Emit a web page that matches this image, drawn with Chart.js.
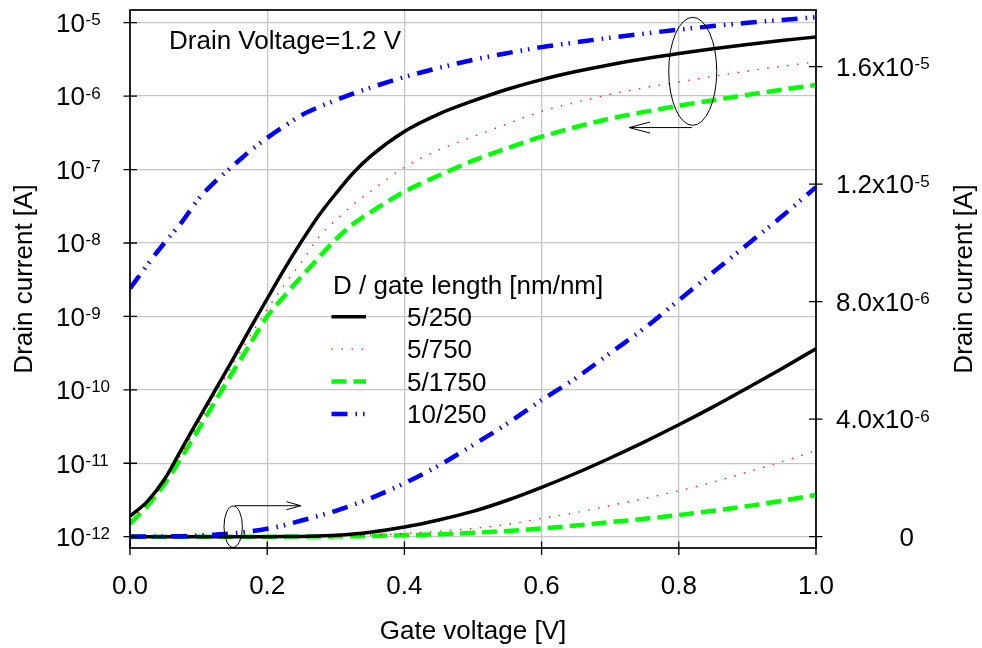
<!DOCTYPE html>
<html>
<head>
<meta charset="utf-8">
<script src="https://cdn.jsdelivr.net/npm/chart.js@4"></script>
<style>
  html, body { margin: 0; padding: 0; background: #fff; }
  canvas { display: block; }
</style>
</head>
<body>
<canvas id="ivChart" width="982" height="648"></canvas>
<script>
// gate voltage [V]
const gateVoltage = [0, 0.025, 0.05, 0.075, 0.1, 0.125, 0.15, 0.175, 0.2, 0.225, 0.25, 0.275, 0.3, 0.325, 0.35,
  0.4, 0.45, 0.5, 0.55, 0.6, 0.65, 0.7, 0.75, 0.8, 0.85, 0.9, 0.95, 1.0];

// drain current [A] for each D / gate length
const current5_250 = [1.9e-12, 3.0e-12, 6.0e-12, 1.55e-11, 4.0e-11, 1.02e-10, 2.6e-10, 6.8e-10, 1.74e-9, 4.4e-9, 1.05e-8, 2.35e-8,
  4.7e-8, 8.9e-8, 1.5e-7, 3.3e-7, 5.7e-7, 8.6e-7, 1.24e-6, 1.68e-6, 2.16e-6, 2.68e-6, 3.23e-6, 3.81e-6, 4.42e-6, 5.06e-6, 5.72e-6, 6.4e-6];
const current5_750 = [1.7e-12, 2.8e-12, 5.6e-12, 1.35e-11, 3.4e-11, 9.0e-11, 2.2e-10, 5.4e-10, 1.25e-9, 2.7e-9, 5.5e-9, 1.2e-8,
  2.05e-8, 3.3e-8, 5.0e-8, 1.07e-7, 1.85e-7, 2.8e-7, 4.2e-7, 6.2e-7, 8.2e-7, 1.06e-6, 1.3e-6, 1.56e-6, 1.86e-6, 2.2e-6, 2.55e-6, 2.93e-6];
const current5_1750 = [1.5e-12, 2.6e-12, 5.2e-12, 1.2e-11, 2.9e-11, 7.2e-11, 1.75e-10, 4.2e-10, 1.0e-9, 1.9e-9, 3.5e-9, 6.3e-9,
  1.12e-8, 1.8e-8, 2.6e-8, 5.0e-8, 8.3e-8, 1.32e-7, 1.95e-7, 2.8e-7, 3.8e-7, 4.95e-7, 6.1e-7, 7.4e-7, 8.8e-7, 1.04e-6, 1.22e-6, 1.42e-6];
const current10_250 = [2.4e-9, 5.0e-9, 1.0e-8, 1.9e-8, 4.0e-8, 7.0e-8, 1.12e-7, 1.8e-7, 2.7e-7, 3.9e-7, 5.5e-7, 7.1e-7,
  8.8e-7, 1.08e-6, 1.3e-6, 1.82e-6, 2.42e-6, 3.12e-6, 3.85e-6, 4.65e-6, 5.4e-6, 6.25e-6, 7.1e-6, 8.05e-6, 9.0e-6, 9.95e-6, 10.9e-6, 11.9e-6];

const seriesLabels = ['5/250', '5/750', '5/1750', '10/250'];
const seriesData = [current5_250, current5_750, current5_1750, current10_250];

// axis ticks
const xTicks = [0, 0.2, 0.4, 0.6, 0.8, 1.0];
const xTickLabels = ['0.0', '0.2', '0.4', '0.6', '0.8', '1.0'];
const logTicks = [1e-12, 1e-11, 1e-10, 1e-9, 1e-8, 1e-7, 1e-6, 1e-5];
const logTickExponents = ['-12', '-11', '-10', '-9', '-8', '-7', '-6', '-5'];
const linTicks = [0, 4e-6, 8e-6, 1.2e-5, 1.6e-5];
const linTickBases = ['0', '4.0x10', '8.0x10', '1.2x10', '1.6x10'];
const linTickExponents = ['', '-6', '-6', '-5', '-5'];

const FONT = '"Liberation Sans", Arial, sans-serif';

const styles = [
  { color: '#000000', width: 3.5, dash: [] },
  { color: '#ff2020', width: 1.4, dash: [1.5, 8.5] },
  { color: '#00ff00', width: 4.5, dash: [15, 7] },
  { color: '#0000ff', width: 4.5, dash: [16, 8, 1.5, 6, 1.5, 8] }
];

function makeSet(i, axis) {
  return {
    label: seriesLabels[i],
    data: gateVoltage.map((v, k) => ({ x: v, y: seriesData[i][k] })),
    yAxisID: axis,
    borderColor: styles[i].color,
    borderWidth: styles[i].width,
    borderDash: styles[i].dash,
    borderCapStyle: 'butt',
    pointRadius: 0,
    fill: false,
    cubicInterpolationMode: 'monotone'
  };
}

const order = [3, 0, 1, 2];
const datasets = [];
order.forEach(i => datasets.push(makeSet(i, 'y')));
order.forEach(i => datasets.push(makeSet(i, 'y2')));

function supText(ctx, base, sup, rightX, cy) {
  ctx.fillStyle = '#000';
  ctx.font = '26px ' + FONT;
  ctx.textAlign = 'right';
  ctx.textBaseline = 'alphabetic';
  ctx.fillText(base, rightX, cy + 9.3);
  if (sup) {
    ctx.font = '17px ' + FONT;
    ctx.textAlign = 'left';
    ctx.fillText(sup, rightX + 0.5, cy + 2.5);
  }
}

function arrow(ctx, x1, y1, x2, y2, len, half) {
  ctx.beginPath();
  ctx.moveTo(x1, y1);
  ctx.lineTo(x2, y2);
  const dir = Math.sign(x2 - x1);
  ctx.moveTo(x2 - dir * len, y2 - half);
  ctx.lineTo(x2, y2);
  ctx.lineTo(x2 - dir * len, y2 + half);
  ctx.stroke();
}

const decorations = {
  id: 'decorations',
  afterDraw(chart) {
    const { ctx, chartArea: a, scales } = chart;
    const x = scales.x, y = scales.y, y2 = scales.y2;
    ctx.save();

    // frame
    ctx.strokeStyle = '#000';
    ctx.setLineDash([]);
    ctx.lineWidth = 1.7;
    ctx.strokeRect(a.left, a.top, a.right - a.left, a.bottom - a.top);

    // tick marks crossing the axes
    ctx.lineWidth = 1.3;
    ctx.beginPath();
    xTicks.forEach(v => {
      const px = x.getPixelForValue(v);
      ctx.moveTo(px, a.bottom - 6.5); ctx.lineTo(px, a.bottom + 7);
    });
    logTicks.forEach(v => {
      const py = y.getPixelForValue(v);
      ctx.moveTo(a.left - 6.5, py); ctx.lineTo(a.left + 7, py);
    });
    linTicks.forEach(v => {
      const py = y2.getPixelForValue(v);
      ctx.moveTo(a.right - 7, py); ctx.lineTo(a.right + 6.5, py);
    });
    ctx.stroke();

    // tick labels
    ctx.fillStyle = '#000';
    ctx.font = '26px ' + FONT;
    ctx.textAlign = 'center';
    ctx.textBaseline = 'alphabetic';
    xTicks.forEach((v, i) => ctx.fillText(xTickLabels[i], x.getPixelForValue(v), 593.5));
    logTicks.forEach((v, i) => supText(ctx, '10', logTickExponents[i], 85, y.getPixelForValue(v)));
    linTicks.forEach((v, i) => supText(ctx, linTickBases[i], linTickExponents[i], 914, y2.getPixelForValue(v)));

    // axis titles
    ctx.font = '26px ' + FONT;
    ctx.textAlign = 'center';
    ctx.textBaseline = 'alphabetic';
    ctx.fillText('Gate voltage [V]', (a.left + a.right) / 2, 638.5);
    const midY = (a.top + a.bottom) / 2;
    [[32, 'Drain current [A]'], [972, 'Drain current [A]']].forEach(([tx, t]) => {
      ctx.save();
      ctx.translate(tx, midY);
      ctx.rotate(-Math.PI / 2);
      ctx.fillText(t, 0, 0);
      ctx.restore();
    });

    // condition text
    ctx.textAlign = 'left';
    ctx.fillText('Drain Voltage=1.2 V', 169, 48.5);

    // legend
    ctx.fillText('D / gate length [nm/nm]', 333, 293.5);
    seriesLabels.forEach((lab, i) => {
      const cy = 316.7 + i * 32.4;
      const s = styles[i];
      ctx.strokeStyle = s.color;
      ctx.lineWidth = s.width;
      ctx.lineCap = 'butt';
      ctx.setLineDash(s.dash);
      ctx.beginPath();
      ctx.moveTo(331.5, cy); ctx.lineTo(366, cy);
      ctx.stroke();
      ctx.setLineDash([]);
      ctx.fillStyle = '#000';
      ctx.fillText(lab, 407, cy + 9.3);
    });

    // axis markers: ellipses with arrows
    ctx.strokeStyle = '#000';
    ctx.lineWidth = 1;
    ctx.setLineDash([]);
    const e1x = x.getPixelForValue(0.8203), e1y = y.getPixelForValue(Math.pow(10, -5.662));
    ctx.beginPath();
    ctx.ellipse(e1x, e1y, 24, 54, 0, 0, Math.PI * 2);
    ctx.stroke();
    const a1y = y.getPixelForValue(3.73e-7);
    arrow(ctx, x.getPixelForValue(0.819), a1y, x.getPixelForValue(0.7275), a1y, 21, 5.5);

    const e2x = x.getPixelForValue(0.1504), e2y = y2.getPixelForValue(3.4e-7);
    ctx.beginPath();
    ctx.ellipse(e2x, e2y, 9.2, 20.7, 0, 0, Math.PI * 2);
    ctx.stroke();
    const a2y = y2.getPixelForValue(1.054e-6);
    arrow(ctx, x.getPixelForValue(0.153), a2y, x.getPixelForValue(0.2493), a2y, 14.5, 4);

    ctx.restore();
  }
};

const ctx = document.getElementById('ivChart').getContext('2d');
new Chart(ctx, {
  type: 'line',
  data: { datasets },
  options: {
    responsive: false,
    animation: false,
    devicePixelRatio: 1,
    layout: { padding: { top: 10, left: 0, right: 0, bottom: 0 } },
    plugins: { legend: { display: false }, tooltip: { enabled: false } },
    scales: {
      x: {
        type: 'linear',
        min: 0,
        max: 1,
        afterFit: s => { s.height = 100; },
        afterBuildTicks: s => { s.ticks = xTicks.map(v => ({ value: v })); },
        ticks: { display: false },
        grid: { color: '#c6c6c6', lineWidth: 1.3, drawTicks: false },
        border: { display: false }
      },
      y: {
        type: 'logarithmic',
        position: 'left',
        min: Math.pow(10, -12.154),
        max: Math.pow(10, -4.827),
        afterFit: s => { s.width = 130; },
        afterBuildTicks: s => { s.ticks = logTicks.map(v => ({ value: v })); },
        ticks: { display: false },
        grid: { color: '#c6c6c6', lineWidth: 1.3, drawTicks: false },
        border: { display: false }
      },
      y2: {
        type: 'linear',
        position: 'right',
        min: -3.85e-7,
        max: 1.793e-5,
        afterFit: s => { s.width = 166; },
        afterBuildTicks: s => { s.ticks = linTicks.map(v => ({ value: v })); },
        ticks: { display: false },
        grid: { drawOnChartArea: false, drawTicks: false },
        border: { display: false }
      }
    }
  },
  plugins: [decorations]
});
</script>
</body>
</html>
